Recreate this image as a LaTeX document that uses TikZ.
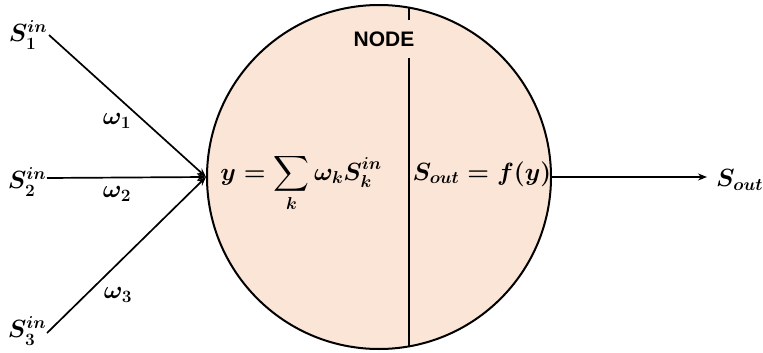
\documentclass[tikz,border=0pt]{standalone}
\usepackage{amsmath,bm}
\usepackage{fontspec}
\newfontfamily\nodefont{Liberation Sans}
\usetikzlibrary{arrows.meta}
\definecolor{peach}{HTML}{FBE5D6}
\begin{document}
\begin{tikzpicture}[x=1pt,y={(0pt,-1pt)},
  mathtxt/.style={font=\fontsize{24}{28}\selectfont\boldmath, inner sep=0pt},
  conn/.style={line width=1.7pt, -{Stealth[length=9pt,width=7pt]}},
  divider/.style={line width=1.6pt}]
\useasboundingbox (0,0) rectangle (763,353);
% main node circle
\node[circle, draw, line width=2pt, fill=peach, minimum size=344pt, inner sep=0pt] (nd) at (379,177) {};
\coordinate (dtop) at (409,6.6);
\coordinate (dbot) at (409,347.4);
\draw[divider] (dtop) -- (dbot);
\node[fill=peach, font=\nodefont\bfseries\fontsize{21}{24}\selectfont, minimum height=38pt, inner sep=2pt] (lbl) at (384,39) {NODE};
% equations
\node[mathtxt, anchor=base] (eq1) at (301,180) {$y=\displaystyle\sum_{k}\omega_k S_k^{in}$};
\node[mathtxt, anchor=base] (eq2) at (482,180) {$S_{out}=f(y)$};
% inputs
\node[mathtxt] (s1) at (28,35) {$S_1^{in}$};
\node[mathtxt] (s2) at (27,182) {$S_2^{in}$};
\node[mathtxt] (s3) at (27,331) {$S_3^{in}$};
\coordinate (in1) at (49,35);
\coordinate (in2) at (47,178);
\coordinate (in3) at (47,333);
\draw[conn] (in1) -- (nd.west);
\draw[conn] (in2) -- (nd.west);
\draw[conn] (in3) -- (nd.west);
\node[mathtxt] (w1) at (117,121) {$\omega_1$};
\node[mathtxt] (w2) at (117,194) {$\omega_2$};
\node[mathtxt] (w3) at (118,295) {$\omega_3$};
% output
\node[mathtxt, anchor=west] (sout) at (716,180) {$S_{out}$};
\coordinate (outend) at (707,177);
\draw[conn] (nd.east) -- (outend);
\end{tikzpicture}
\end{document}
